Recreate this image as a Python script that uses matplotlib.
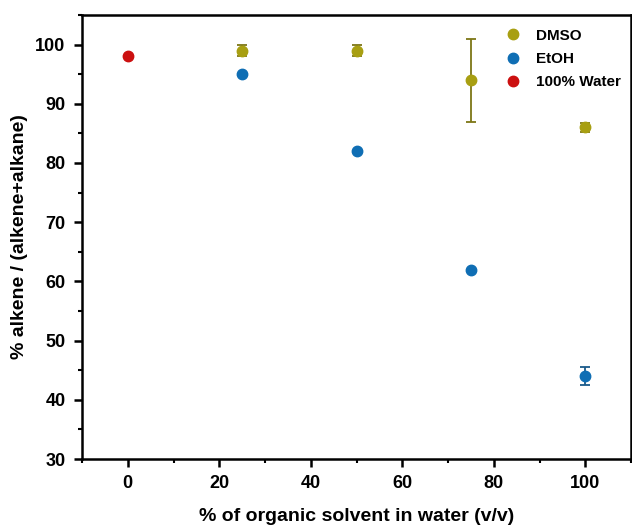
import matplotlib
matplotlib.use("Agg")
import matplotlib.pyplot as plt
from matplotlib.ticker import MultipleLocator

plt.rcParams['font.family'] = ['Liberation Sans', 'DejaVu Sans']
plt.rcParams['font.weight'] = 'bold'

dmso_x = [25, 50, 75, 100]
dmso_y = [99, 99, 94, 86]
dmso_err = [1.0, 1.0, 7.0, 0.7]

etoh_x = [25, 50, 75, 100]
etoh_y = [95, 82, 62, 44]
etoh_err = [0.0, 0.0, 0.0, 1.5]

water_x = [0]
water_y = [98]
water_err = [0.5]

fig = plt.figure(figsize=(6.32, 5.27), dpi=100)
ax = fig.add_axes([82/632, 1-459/527, (631-82)/632, (459-15)/527])

ms = 7.5
ax.errorbar(dmso_x, dmso_y, yerr=dmso_err, fmt='o', color='#a89f12', ecolor='#7d7616',
            ms=ms, capsize=3.8, elinewidth=1.3, capthick=1.3, label='DMSO', zorder=3)
ax.errorbar(etoh_x, etoh_y, yerr=etoh_err, fmt='o', color='#0f6eb4', ecolor='#1a5a8a',
            ms=ms, capsize=3.8, elinewidth=1.3, capthick=1.3, label='EtOH', zorder=3)
ax.errorbar(water_x, water_y, yerr=water_err, fmt='o', color='#cc1010', ecolor='#8a1010',
            ms=ms, capsize=3, elinewidth=1.0, capthick=1.0, label='100% Water', zorder=3)

ax.set_xlim(-10, 110)
ax.set_ylim(30, 105)
ax.xaxis.set_major_locator(MultipleLocator(20))
ax.xaxis.set_minor_locator(MultipleLocator(10))
ax.yaxis.set_major_locator(MultipleLocator(10))
ax.yaxis.set_minor_locator(MultipleLocator(5))

for s in ax.spines.values():
    s.set_linewidth(1.8)

ax.tick_params(axis='both', which='major', direction='out', length=5.8, width=1.8,
               labelsize=13, pad=6)
ax.tick_params(axis='both', which='minor', direction='out', length=3, width=1.5)
for lbl in ax.get_xticklabels() + ax.get_yticklabels():
    lbl.set_fontweight('bold')

ax.set_xlabel('% of organic solvent in water (v/v)', fontsize=14, fontweight='bold', labelpad=11)
ax.set_ylabel('% alkene / (alkene+alkane)', fontsize=14, fontweight='bold', labelpad=5)

handles, labels = ax.get_legend_handles_labels()
handles = [h[0] for h in handles]
leg = ax.legend(handles, labels, loc='upper right', bbox_to_anchor=(1.01, 1.004),
                frameon=False, prop={'weight': 'bold', 'size': 11}, handletextpad=0.95,
                labelspacing=0.62, borderaxespad=0.6, handlelength=1.2)

fig.savefig('out.png', dpi=100)
